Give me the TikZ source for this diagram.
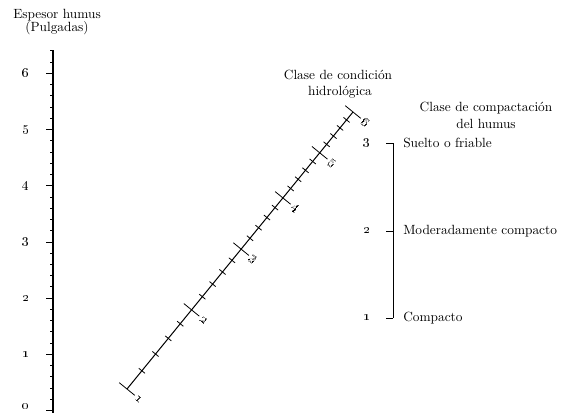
\documentclass[tikz,border=0pt]{standalone}
\usetikzlibrary{calc}
\begin{document}
\begin{tikzpicture}[x=0.75pt,y=-0.75pt,
  txt/.style={font=\fontsize{10}{12}\selectfont, inner sep=0pt},
  num/.style={font=\fontsize{10}{12}\selectfont, inner sep=0pt},
  axisline/.style={line width=0.9pt},
  scaleline/.style={line width=0.75pt},
  tickline/.style={line width=0.6pt}]
\useasboundingbox (0,0) rectangle (567,412);
\fill[white] (0,0) rectangle (567,412);

% ---------- left scale: humus depth ----------
\node[txt] (tL1) at (57,15) {Espesor humus};
\node[txt] (tL2) at (57,28) {(Pulgadas)};
\coordinate (Ltop) at (53,50);
\coordinate (Lbot) at (53,413);
\draw[axisline] (Ltop) -- (Lbot);
\foreach \i in {1,...,32} {
  \pgfmathsetmacro\yy{410.5-56.2*\i/5}
  \draw[tickline] (50,\yy) -- (53,\yy);
}
\foreach \v in {0,...,6} {
  \pgfmathsetmacro\yy{410.5-56.2*\v}
  \draw[tickline] (46,\yy) -- (53,\yy);
}
\foreach \v in {1,...,6} {
  \pgfmathsetmacro\yy{410.5-56.2*\v}
  \node[num] (dL\v) at (26,\yy) {\oldstylenums{\v}};
}
\node[num,anchor=base] (dL0) at (26,409) {\oldstylenums{0}};

% ---------- diagonal scale: hydrologic condition class ----------
\node[txt] (tH1) at (338,75) {Clase de condición};
\node[txt] (tH2) at (340,92) {hidrológica};
\coordinate (H1) at (127,389);
\coordinate (H6) at (353,112);
\draw[scaleline] (H1) -- (H6);
\foreach \i in {0,...,25} {
  \pgfmathsetmacro\vv{1+\i/5}
  \pgfmathsetmacro\tt{(sqrt(\vv)-1)/(sqrt(6)-1)}
  \pgfmathtruncatemacro\ismaj{mod(\i,5)==0 ? 1 : 0}
  \pgfmathsetmacro\hl{\ismaj==1 ? 10 : 4}
  \coordinate (hp) at ($(H1)!\tt!(H6)$);
  \draw[tickline] ($(hp)+(-\hl*0.775,-\hl*0.632)$) -- ($(hp)+(\hl*0.775,\hl*0.632)$);
}
\foreach \v in {1,...,6} {
  \pgfmathsetmacro\tt{(sqrt(\v)-1)/(sqrt(6)-1)}
  \node[num,rotate=-39] (dH\v) at ($($(H1)!\tt!(H6)$)+(16*0.775,16*0.632)$) {\oldstylenums{\v}};
}

% ---------- right scale: humus compaction class ----------
\node[txt] (tC1) at (486,108) {Clase de compactación};
\node[txt] (tC2) at (486,124) {del humus};
\coordinate (C3) at (393,143);
\coordinate (C2) at (393,231);
\coordinate (C1) at (393,318);
\draw[tickline] (C3) -- (C1);
\foreach \c in {1,2,3} {
  \draw[tickline] ($(C\c)+(-7,0)$) -- (C\c);
  \node[num] (dC\c) at ($(C\c)+(-26,0)$) {\oldstylenums{\c}};
}
\node[txt,anchor=west] (lC3) at (403,143) {Suelto o friable};
\node[txt,anchor=west] (lC2) at (403,231) {Moderadamente compacto};
\node[txt,anchor=west] (lC1) at (403,318) {Compacto};
\end{tikzpicture}
\end{document}
